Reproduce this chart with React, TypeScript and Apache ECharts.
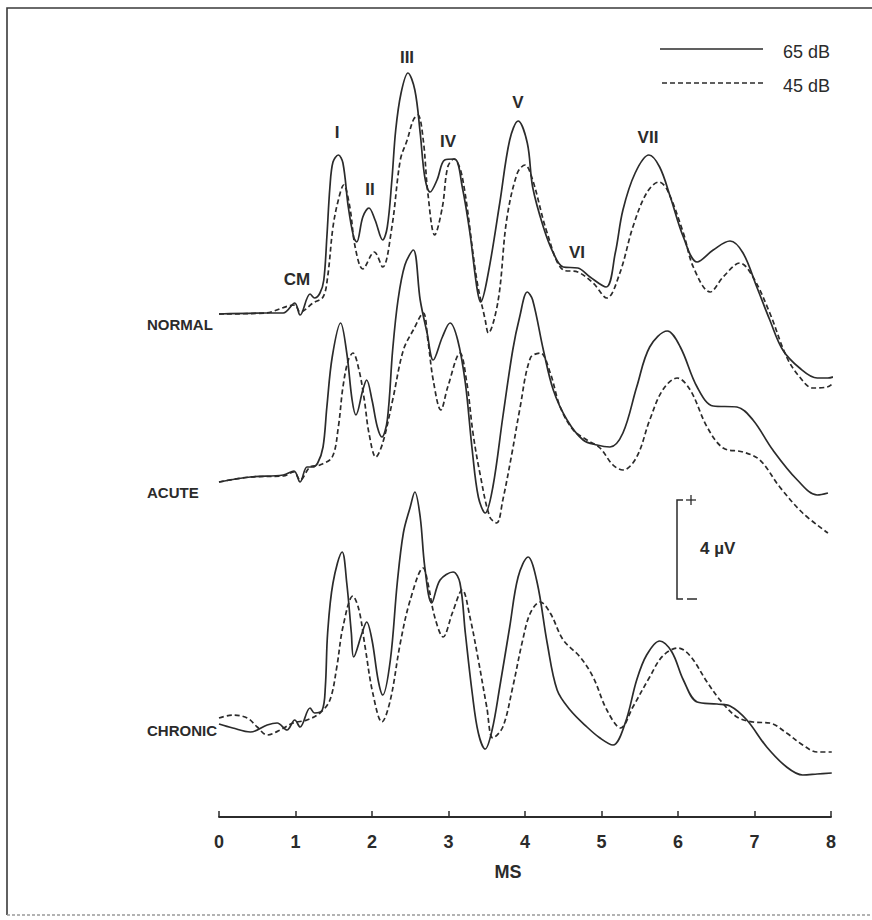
import React, { useEffect, useRef } from "react";
import * as echarts from "echarts";

// Time (ms) ticks of the x axis
const TIME_TICKS = [0, 1, 2, 3, 4, 5, 6, 7, 8];

// Row labels and the vertical offset (µV) used to stack each pair of traces
const GROUPS = ["NORMAL", "ACUTE", "CHRONIC"];
const GROUP_OFFSETS = [20.12, 13.4, 3.72];

// Wave labels
const WAVE_LABELS = ["CM", "I", "II", "III", "IV", "V", "VI", "VII"];

// Legend
const LEVELS = ["65 dB", "45 dB"];

// Traces: [time ms, amplitude µV relative to the pre-stimulus baseline]
const normal65 = [
  [0, 0], [0.6, 0.04], [0.84, 0.04], [0.99, 0.44], [1.06, -0.04], [1.19, 0.8], [1.25, 0.64],
  [1.32, 0.84], [1.37, 1.36], [1.41, 3.08], [1.45, 5.08], [1.49, 6.08], [1.56, 6.36], [1.62, 6.04],
  [1.69, 4.28], [1.76, 3.08], [1.8, 2.88], [1.88, 3.88], [1.96, 4.24], [2.04, 3.76], [2.14, 2.96],
  [2.2, 3.48], [2.26, 5.36], [2.31, 7.36], [2.38, 8.84], [2.47, 9.64], [2.56, 8.96], [2.63, 7.24],
  [2.69, 5.48], [2.76, 4.88], [2.85, 5.36], [2.95, 6.16], [3.08, 6.2], [3.18, 5.08], [3.28, 3.24],
  [3.37, 1.08], [3.42, 0.48], [3.52, 1.64], [3.67, 4.44], [3.8, 6.96], [3.91, 7.72], [4.03, 6.84],
  [4.1, 5.08], [4.24, 3.48], [4.37, 2.44], [4.5, 1.88], [4.69, 1.84], [4.85, 1.48], [5.06, 1.08],
  [5.18, 2.44], [5.28, 4.16], [5.44, 5.64], [5.62, 6.36], [5.76, 5.88], [5.9, 4.68], [6.07, 3.08],
  [6.25, 2.08], [6.46, 2.56], [6.68, 2.92], [6.85, 2.44], [7.03, 1.08], [7.2, -0.24], [7.37, -1.44],
  [7.59, -2.16], [7.82, -2.56], [7.96, -2.56], [8.09, -2.44],
];
const normal45 = [
  [0, 0], [0.6, 0.04], [0.99, 0.36], [1.06, 0.08], [1.23, 0.44], [1.36, 0.68], [1.42, 1.48],
  [1.49, 3.48], [1.56, 4.56], [1.63, 5.16], [1.71, 4.28], [1.78, 2.68], [1.88, 1.8], [2.03, 2.48],
  [2.14, 1.88], [2.26, 3.48], [2.37, 6.16], [2.46, 6.96], [2.54, 7.76], [2.6, 7.96], [2.67, 6.96],
  [2.73, 4.84], [2.82, 3.16], [2.92, 4.28], [2.99, 5.88], [3.07, 6.2], [3.18, 5.48], [3.37, 1.36],
  [3.48, -0.24], [3.52, -0.76], [3.65, 0.56], [3.76, 3.76], [3.9, 5.64], [4.0, 5.96], [4.1, 5.36],
  [4.29, 3.24], [4.5, 1.76], [4.69, 1.68], [4.89, 1.24], [5.07, 0.64], [5.24, 1.64], [5.41, 3.48],
  [5.59, 4.84], [5.75, 5.28], [5.86, 4.96], [6.07, 3.24], [6.2, 1.88], [6.42, 0.88], [6.59, 1.48],
  [6.81, 2.04], [6.98, 1.48], [7.2, 0.04], [7.42, -1.72], [7.59, -2.52], [7.76, -2.96], [7.95, -2.92],
  [8.09, -2.56],
];
const acute65 = [
  [0, 0], [0.41, 0.2], [0.84, 0.28], [0.98, 0.44], [1.06, 0], [1.15, 0.6], [1.22, 0.6], [1.29, 0.76],
  [1.36, 1.4], [1.41, 3.0], [1.48, 5.0], [1.59, 6.36], [1.67, 5.16], [1.74, 3.28], [1.79, 2.68],
  [1.88, 3.68], [1.93, 4.08], [2.0, 3.28], [2.07, 2.2], [2.13, 1.8], [2.2, 2.48], [2.27, 5.28],
  [2.34, 7.28], [2.43, 8.68], [2.54, 9.28], [2.63, 7.28], [2.72, 5.96], [2.8, 4.88], [2.92, 5.8],
  [3.02, 6.36], [3.12, 5.68], [3.22, 3.96], [3.31, 1.28], [3.39, -0.6], [3.48, -1.24], [3.58, -0.2],
  [3.71, 2.6], [3.84, 5.28], [3.93, 6.6], [4.03, 7.6], [4.1, 7.28], [4.24, 5.28], [4.37, 3.68],
  [4.55, 2.48], [4.76, 1.68], [4.94, 1.48], [5.11, 1.4], [5.28, 1.96], [5.46, 3.8], [5.63, 5.4],
  [5.86, 6.04], [6.03, 5.4], [6.25, 3.8], [6.46, 3.04], [6.77, 3.0], [6.98, 2.48], [7.24, 1.28],
  [7.56, 0.08], [7.82, -0.52], [7.96, -0.44],
];
const acute45 = [
  [0, 0], [0.41, 0.2], [0.84, 0.24], [0.98, 0.4], [1.06, 0.08], [1.19, 0.6], [1.32, 0.68], [1.48, 1.0],
  [1.56, 2.2], [1.62, 3.8], [1.69, 4.88], [1.75, 5.16], [1.83, 4.48], [1.9, 3.28], [1.96, 1.96],
  [2.05, 1.0], [2.14, 1.56], [2.27, 3.28], [2.41, 5.28], [2.54, 6.08], [2.67, 6.76], [2.73, 5.68],
  [2.8, 4.08], [2.9, 2.88], [2.99, 3.8], [3.15, 5.16], [3.24, 3.96], [3.32, 1.96], [3.41, 0.36],
  [3.54, -1.4], [3.63, -1.64], [3.71, -0.72], [3.83, 1.16], [3.93, 2.88], [4.07, 4.96], [4.2, 5.16],
  [4.33, 4.36], [4.46, 3.0], [4.63, 2.08], [4.81, 1.68], [4.98, 1.36], [5.15, 0.68], [5.28, 0.48],
  [5.46, 1.0], [5.63, 2.48], [5.8, 3.68], [5.99, 4.16], [6.16, 3.68], [6.38, 2.2], [6.59, 1.36],
  [6.85, 1.2], [7.07, 0.88], [7.33, -0.2], [7.63, -1.24], [7.96, -2.04],
];
const chronic65 = [
  [0, 0], [0.18, -0.16], [0.41, -0.32], [0.63, -0.04], [0.76, 0.04], [0.89, -0.24], [0.99, 0.16],
  [1.06, -0.12], [1.19, 0.64], [1.25, 0.44], [1.35, 0.56], [1.39, 1.48], [1.42, 3.64], [1.49, 5.64],
  [1.61, 6.88], [1.67, 5.64], [1.73, 3.64], [1.76, 2.68], [1.87, 3.64], [1.93, 4.08], [2.0, 3.36],
  [2.08, 1.76], [2.14, 1.16], [2.24, 2.56], [2.33, 5.64], [2.41, 7.64], [2.5, 8.68], [2.56, 9.28],
  [2.63, 8.28], [2.69, 6.28], [2.78, 4.84], [2.89, 5.76], [3.06, 6.08], [3.15, 5.64], [3.22, 3.64],
  [3.31, 1.24], [3.39, -0.36], [3.48, -1.0], [3.57, -0.24], [3.67, 1.48], [3.8, 3.88], [3.91, 5.88],
  [4.04, 6.68], [4.16, 5.64], [4.29, 3.24], [4.42, 1.36], [4.59, 0.56], [4.81, -0.12], [4.98, -0.56],
  [5.15, -0.84], [5.31, 0.04], [5.46, 1.76], [5.59, 2.76], [5.76, 3.32], [5.92, 2.88], [6.07, 1.76],
  [6.25, 0.88], [6.51, 0.8], [6.68, 0.72], [6.9, 0.16], [7.16, -0.92], [7.42, -1.72], [7.63, -2.04],
  [7.82, -2.0], [8.01, -1.96],
];
const chronic45 = [
  [0, 0.24], [0.18, 0.36], [0.37, 0.24], [0.5, -0.12], [0.63, -0.44], [0.8, -0.24], [0.97, 0.04],
  [1.15, 0.16], [1.32, 0.44], [1.45, 0.96], [1.54, 2.28], [1.62, 3.88], [1.75, 5.12], [1.83, 4.56],
  [1.91, 3.08], [2.01, 1.24], [2.13, 0.08], [2.24, 0.96], [2.37, 3.24], [2.5, 4.96], [2.67, 6.24],
  [2.73, 5.64], [2.82, 4.28], [2.93, 3.48], [3.05, 4.44], [3.18, 5.36], [3.28, 4.28], [3.39, 2.56],
  [3.5, 0.68], [3.58, -0.56], [3.71, -0.12], [3.84, 1.48], [3.97, 3.36], [4.07, 4.44], [4.2, 4.88],
  [4.33, 4.44], [4.5, 3.36], [4.72, 2.68], [4.89, 1.88], [5.07, 0.56], [5.25, -0.16], [5.41, 0.68],
  [5.63, 1.88], [5.8, 2.72], [6.0, 3.04], [6.16, 2.72], [6.38, 1.68], [6.55, 0.96], [6.77, 0.28],
  [6.98, 0.08], [7.2, 0.04], [7.42, -0.36], [7.63, -0.84], [7.82, -1.12], [8.01, -1.12],
];

const SCALE_BAR_LABEL = "4 µV";

export default function App() {
  const ref = useRef<HTMLDivElement>(null);

  useEffect(() => {
    if (!ref.current) return;
    const chart = echarts.init(ref.current, null, { renderer: "svg" });
    const font = "'Liberation Sans', Arial, Helvetica, sans-serif";
    const ink = "#2b2b2b";

    const traces = [
      { data: normal65, g: 0, dashed: false },
      { data: normal45, g: 0, dashed: true },
      { data: acute65, g: 1, dashed: false },
      { data: acute45, g: 1, dashed: true },
      { data: chronic65, g: 2, dashed: false },
      { data: chronic45, g: 2, dashed: true },
    ];

    const series = traces.map((t) => ({
      type: "line",
      name: `${GROUPS[t.g]} ${t.dashed ? LEVELS[1] : LEVELS[0]}`,
      data: t.data.map(([x, y]) => [x, y + GROUP_OFFSETS[t.g]]),
      smooth: 0.35,
      symbol: "none",
      clip: false,
      z: t.dashed ? 2 : 3,
      lineStyle: {
        color: ink,
        width: 1.7,
        type: t.dashed ? [5, 3] : "solid",
      },
    }));

    const waveLabelPos: Record<string, [number, number]> = {
      CM: [297, 279],
      I: [337, 132],
      II: [370, 189],
      III: [407, 57],
      IV: [448, 141],
      V: [518, 102],
      VI: [577, 252],
      VII: [648, 137],
    };
    const rowLabelPos: [number, number][] = [
      [147, 324],
      [147, 492],
      [147, 730],
    ];

    const text = (s: string, x: number, y: number, opts: any = {}) => ({
      type: "text",
      x,
      y,
      silent: true,
      style: {
        text: s,
        fill: ink,
        font: `${opts.weight || "bold"} ${opts.size || 16}px ${font}`,
        textAlign: opts.align || "center",
        textVerticalAlign: "middle",
      },
    });

    const graphics: any[] = [
      // frame
      {
        type: "polyline",
        shape: { points: [[7, 915], [7, 8], [872, 8]] },
        style: { stroke: "#3a3a3a", lineWidth: 1.6, fill: null },
      },
      {
        type: "line",
        shape: { x1: 7, y1: 915, x2: 872, y2: 915 },
        style: { stroke: "#9a9a9a", lineWidth: 1.4, lineDash: [3, 2] },
      },
      // legend
      {
        type: "line",
        shape: { x1: 660, y1: 49, x2: 763, y2: 49 },
        style: { stroke: ink, lineWidth: 1.7 },
      },
      {
        type: "line",
        shape: { x1: 662, y1: 83, x2: 765, y2: 83 },
        style: { stroke: ink, lineWidth: 1.7, lineDash: [5, 3] },
      },
      text(LEVELS[0], 783, 52, { align: "left", weight: "normal", size: 18 }),
      text(LEVELS[1], 783, 86, { align: "left", weight: "normal", size: 18 }),
      // scale bar
      {
        type: "polyline",
        shape: { points: [[683, 500], [677, 500], [677, 599], [683, 599]] },
        style: { stroke: ink, lineWidth: 1.5, fill: null },
      },
      {
        type: "line",
        shape: { x1: 687, y1: 599, x2: 697, y2: 599 },
        style: { stroke: ink, lineWidth: 1.5 },
      },
      {
        type: "line",
        shape: { x1: 686, y1: 500, x2: 696, y2: 500 },
        style: { stroke: ink, lineWidth: 1.3 },
      },
      {
        type: "line",
        shape: { x1: 691, y1: 495, x2: 691, y2: 505 },
        style: { stroke: ink, lineWidth: 1.3 },
      },
      text(SCALE_BAR_LABEL, 700, 548, { align: "left", weight: "bold", size: 17 }),
      // axis name
      text("MS", 508, 872, { size: 18 }),
      ...WAVE_LABELS.map((w) => text(w, waveLabelPos[w][0], waveLabelPos[w][1], { size: 17 })),
      ...GROUPS.map((g, i) => text(g, rowLabelPos[i][0], rowLabelPos[i][1], { align: "left", size: 15 })),
    ];

    chart.setOption({
      animation: false,
      backgroundColor: "#ffffff",
      grid: { left: 219, right: 41, top: 42, bottom: 103 },
      xAxis: {
        type: "value",
        min: TIME_TICKS[0],
        max: TIME_TICKS[TIME_TICKS.length - 1],
        interval: 1,
        axisLine: { show: true, lineStyle: { color: ink, width: 1.8 } },
        axisTick: { show: true, inside: true, length: 6, lineStyle: { color: ink, width: 1.5 } },
        axisLabel: {
          margin: 16,
          fontSize: 18,
          fontWeight: "bold",
          color: ink,
          fontFamily: font,
          formatter: (v: number) => String(v),
        },
        splitLine: { show: false },
      },
      yAxis: { type: "value", min: 0, max: 31, show: false },
      series,
      graphic: graphics,
    });

    return () => chart.dispose();
  }, []);

  return (
    <div
      ref={ref}
      style={{ position: "fixed", left: 0, top: 0, width: 872, height: 920, background: "#fff" }}
    />
  );
}
